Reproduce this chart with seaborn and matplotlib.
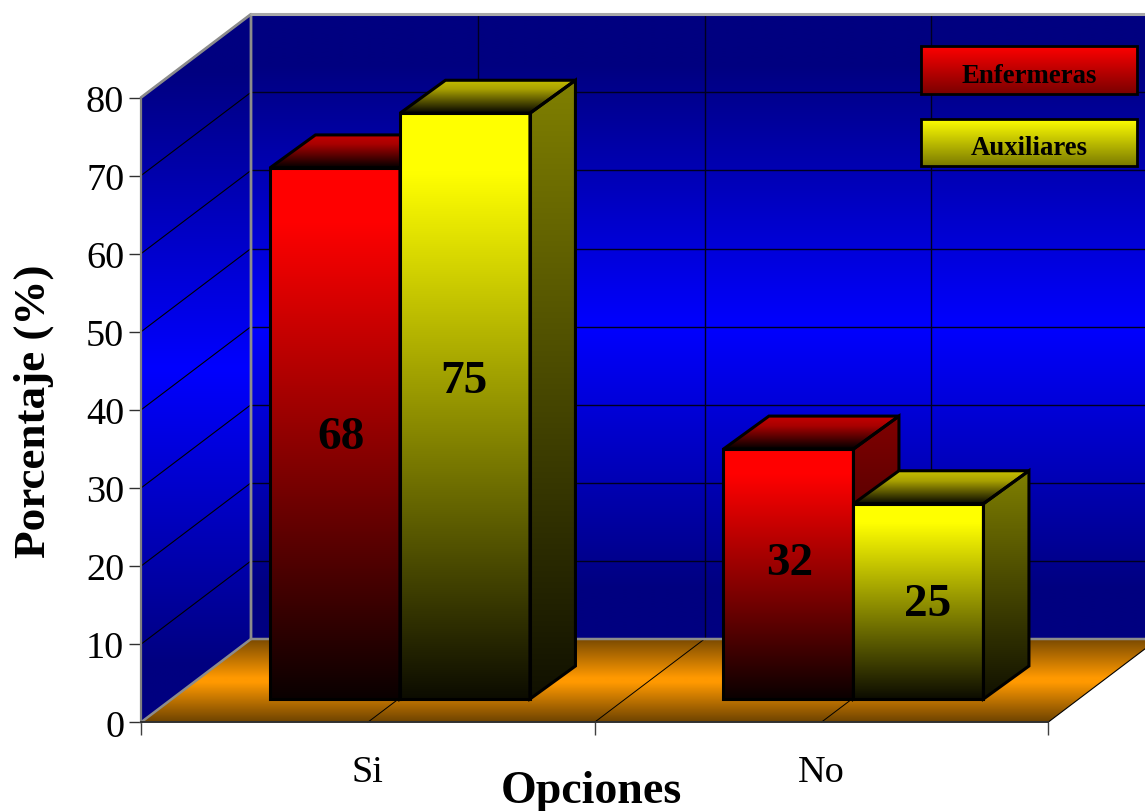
import numpy as np
import pandas as pd
import matplotlib
matplotlib.use("Agg")
import matplotlib.pyplot as plt
from matplotlib.colors import LinearSegmentedColormap
from matplotlib.patches import Polygon, Rectangle
from matplotlib.ticker import FixedLocator, NullLocator
import seaborn as sns

# Survey results
opciones = ["Si", "No"]
grupos = ["Enfermeras", "Auxiliares"]
enfermeras = [68, 32]
auxiliares = [75, 25]
y_ticks = [0, 10, 20, 30, 40, 50, 60, 70, 80]

sns.set_theme(style="white")
plt.rcParams["font.family"] = ["Liberation Serif", "DejaVu Serif"]

W, H = 1145, 812
fig = plt.figure(figsize=(W / 100, H / 100), dpi=100, facecolor="white")
ax = fig.add_axes([0, 0, 1, 1])
ax.set_facecolor("none")

# Front plane of the box: one category step is 453.5 px, one value unit 7.81 px
UX, UY = 453.5, 7.81
X0_PX, Y0_PX = 141, 723.3
ax.set_xlim(-0.5 - X0_PX / UX, -0.5 + (W - X0_PX) / UX)
ax.set_ylim(-(H - Y0_PX) / UY, Y0_PX / UY)
ax.autoscale(False)


def px(dx):
    return dx / UX


def py(dy):
    return dy / UY


def to_x(p):
    return -0.5 + (p - X0_PX) / UX


def to_y(p):
    return (Y0_PX - p) / UY


def gradient(verts, colors, z, stops=None):
    """Fill a polygon with a vertical colour ramp."""
    verts = np.asarray(verts, float)
    xa, xb = verts[:, 0].min(), verts[:, 0].max()
    ya, yb = verts[:, 1].min(), verts[:, 1].max()
    seq = list(zip(stops, colors)) if stops else colors
    cmap = LinearSegmentedColormap.from_list("ramp", seq)
    im = ax.imshow(np.linspace(0, 1, 256)[:, None], cmap=cmap, aspect="auto",
                   extent=(xa, xb, ya, yb), origin="upper", zorder=z,
                   interpolation="bilinear")
    clip = Polygon(verts, closed=True, transform=ax.transData, fc="none", ec="none")
    ax.add_patch(clip)
    im.set_clip_path(clip)
    return im


# Box depth and bar inset along the depth direction
WALL_DX, WALL_DY = px(110), py(83.3)
INSET_DX, INSET_DY = px(32.2), py(23.3)
BAR_DX, BAR_DY = px(45.5), py(33)
TOP = y_ticks[-1]
XL, XR = -0.5, 1.5

NAVY, BLUE = "#000080", "#0000FF"
WALL_STOPS = [0, 0.08, 0.5, 0.92, 1]
side_wall = [(XL, 0), (XL + WALL_DX, WALL_DY), (XL + WALL_DX, TOP + WALL_DY), (XL, TOP)]
back_wall = [(XL + WALL_DX, WALL_DY), (XR + WALL_DX, WALL_DY),
             (XR + WALL_DX, TOP + WALL_DY), (XL + WALL_DX, TOP + WALL_DY)]
floor = [(XL, 0), (XR, 0), (XR + WALL_DX, WALL_DY), (XL + WALL_DX, WALL_DY)]
gradient(side_wall, [NAVY, NAVY, BLUE, NAVY, NAVY], 1, stops=WALL_STOPS)
gradient(back_wall, [NAVY, NAVY, BLUE, NAVY, NAVY], 1, stops=WALL_STOPS)
gradient(floor, ["#774800", "#FF9900", "#FF9900", "#6E4300"], 1, stops=[0, 0.47, 0.53, 1])

# Grid lines on both walls and the floor
for v in y_ticks[1:]:
    ax.plot([XL, XL + WALL_DX], [v, v + WALL_DY], color="black", lw=0.8, zorder=2)
    ax.plot([XL + WALL_DX, XR + WALL_DX], [v + WALL_DY] * 2, color="#000020", lw=1.0, zorder=2)
for x in [0.0, 0.5, 1.0]:
    ax.plot([x + WALL_DX] * 2, [WALL_DY, TOP + WALL_DY], color="#000020", lw=1.0, zorder=2)
    ax.plot([x, x + WALL_DX], [0, WALL_DY], color="black", lw=0.7, zorder=2)
ax.plot([XR, XR + WALL_DX], [0, WALL_DY], color="black", lw=0.8, zorder=2)

# Wall outlines
GREY = "#8C8C8C"
ax.plot([XL, XL + WALL_DX, XL + WALL_DX], [TOP, TOP + WALL_DY, WALL_DY],
        color=GREY, lw=2.0, zorder=3)
ax.plot([XL + WALL_DX, XR + WALL_DX], [TOP + WALL_DY] * 2, color="#A8A8A8", lw=2.2, zorder=3)
ax.plot([XL, XL + WALL_DX, XR + WALL_DX], [0, WALL_DY, WALL_DY], color=GREY, lw=1.8, zorder=3)

# Front faces of the bars come from seaborn; depth faces are built on their geometry
tabla = pd.DataFrame({
    "opcion": opciones * 2,
    "grupo": [grupos[0]] * 2 + [grupos[1]] * 2,
    "valor": enfermeras + auxiliares,
})
sns.barplot(data=tabla, x="opcion", y="valor", hue="grupo", order=opciones, hue_order=grupos,
            palette=["#FF0000", "#FFFF00"], width=260 / UX, gap=0, saturation=1,
            legend=False, ax=ax, zorder=5)
ax.set_xlim(-0.5 - X0_PX / UX, -0.5 + (W - X0_PX) / UX)
ax.set_ylim(-(H - Y0_PX) / UY, Y0_PX / UY)

caras = {
    grupos[0]: dict(front=["#FF0000", "#FF0000", "#0A0000"],
                    top=["#C80000", "#A80000", "#000000"],
                    side=["#800000", "#100000"]),
    grupos[1]: dict(front=["#FFFF00", "#FFFF00", "#0C0C00"],
                    top=["#C8C000", "#A8A000", "#050500"],
                    side=["#808000", "#101000"]),
}
FRONT_STOPS = [0, 0.1, 1]
TOP_STOPS = [0, 0.3, 1]
# Nudges of the value labels from each bar's centre, in px
nudges = {(grupos[0], 0): (6, -4), (grupos[1], 0): (-1, 25),
          (grupos[0], 1): (1, 11), (grupos[1], 1): (9, -3)}

barras = [b for b in ax.patches if isinstance(b, Rectangle) and b.get_width() > 0.1 and b.get_height() > 1]
barras = sorted(barras, key=lambda b: b.get_x())
orden = [(grupos[0], 0), (grupos[1], 0), (grupos[0], 1), (grupos[1], 1)]
for n, (bar, (grupo, idx)) in enumerate(zip(barras, orden)):
    base = 5 + n * 2
    estilo = caras[grupo]
    bar.set_x(bar.get_x() + INSET_DX)
    bar.set_y(INSET_DY)
    x0, x1 = bar.get_x(), bar.get_x() + bar.get_width()
    y0, y1 = INSET_DY, INSET_DY + bar.get_height()
    front = [(x0, y0), (x1, y0), (x1, y1), (x0, y1)]
    top = [(x0, y1), (x1, y1), (x1 + BAR_DX, y1 + BAR_DY), (x0 + BAR_DX, y1 + BAR_DY)]
    side = [(x1, y0), (x1 + BAR_DX, y0 + BAR_DY), (x1 + BAR_DX, y1 + BAR_DY), (x1, y1)]
    gradient(top, estilo["top"], base, stops=TOP_STOPS)
    gradient(side, estilo["side"], base)
    gradient(front, estilo["front"], base, stops=FRONT_STOPS)
    for poly in (top, side, front):
        ax.add_patch(Polygon(poly, closed=True, fc="none", ec="black", lw=2.2,
                             joinstyle="miter", zorder=base + 0.5))
    bar.set_visible(False)
    valor = (enfermeras if grupo == grupos[0] else auxiliares)[idx]
    nx, ny = nudges[(grupo, idx)]
    ax.text((x0 + x1) / 2 + px(nx), (y0 + y1) / 2 + py(ny), str(valor), ha="center", va="center",
            fontsize=34, fontweight="bold", color="black", zorder=20)

# Legend boxes over the back wall
entradas = [(grupos[0], (47, 95), ["#FF0000", "#7A0000"]),
            (grupos[1], (120, 167), ["#FFFF00", "#7A7A00"])]
for nombre, (p_top, p_bot), ramp in entradas:
    x0, x1, y0, y1 = to_x(921), to_x(1137), to_y(p_bot), to_y(p_top)
    box = [(x0, y0), (x1, y0), (x1, y1), (x0, y1)]
    gradient(box, ramp, 21)
    ax.add_patch(Polygon(box, closed=True, fc="none", ec="black", lw=2.0, zorder=21.5))
    ax.text((x0 + x1) / 2, to_y((p_top + p_bot) / 2 + 5), nombre, ha="center", va="center",
            fontsize=19.3, fontweight="bold", color="black", zorder=22)

# Axes: spines sit on the front plane of the box
for s in ("top", "right"):
    ax.spines[s].set_visible(False)
ax.spines["left"].set_position(("data", XL))
ax.spines["left"].set_bounds(0, TOP)
ax.spines["left"].set_color("#808080")
ax.spines["left"].set_linewidth(1.6)
ax.spines["left"].set_zorder(4)
ax.spines["bottom"].set_position(("data", 0))
ax.spines["bottom"].set_bounds(XL, XR)
ax.spines["bottom"].set_color("#303030")
ax.spines["bottom"].set_linewidth(1.4)
ax.spines["bottom"].set_zorder(4)

ax.yaxis.set_major_locator(FixedLocator(y_ticks))
ax.yaxis.set_minor_locator(NullLocator())
ax.set_yticklabels([str(v) for v in y_ticks])
ax.tick_params(axis="y", which="major", direction="out", length=8.5, width=1.0, color="#303030",
               labelsize=27.5, labelcolor="black", left=True, pad=3.5)
ax.set_xticks([0, 1])
ax.set_xticklabels(opciones)
ax.set_xticks([-0.5, 0.5, 1.5], minor=True)
ax.tick_params(axis="x", which="major", length=0, labelsize=27.5, labelcolor="black", pad=23, bottom=False)
ax.tick_params(axis="x", which="minor", direction="out", length=9, width=1.0, color="#404040", bottom=True)

ax.set_xlabel("Opciones", fontsize=33, fontweight="bold", color="black")
ax.xaxis.set_label_coords(591 / W, 1 - 792 / H)
ax.xaxis.label.set_va("center")
ax.set_ylabel("Porcentaje (%)", fontsize=32.5, fontweight="bold", color="black")
ax.yaxis.set_label_coords(34 / W, 1 - 411 / H)
ax.yaxis.label.set_va("center")

fig.savefig("out.png", dpi=100, facecolor="white")
